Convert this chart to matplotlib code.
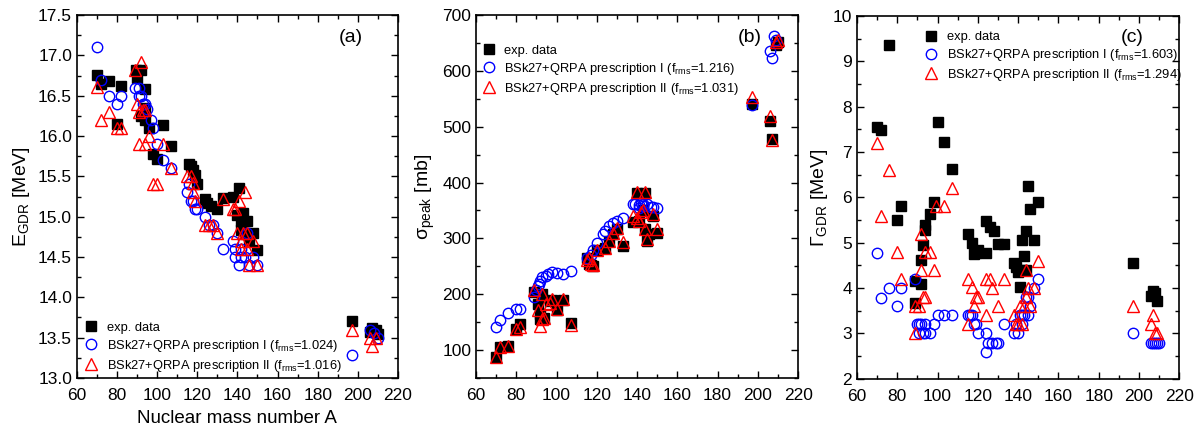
import matplotlib
matplotlib.use("Agg")
import matplotlib.pyplot as plt
from matplotlib.ticker import MultipleLocator

plt.rcParams['font.family'] = ['Liberation Sans', 'DejaVu Sans']
plt.rcParams['mathtext.default'] = 'regular'

# ---------------- Panel (a): E_GDR ----------------
a_exp_A = [70, 72, 76, 82, 80, 89.5, 92, 90, 94, 94, 92, 94, 96, 103, 98, 100, 107,
           116, 117, 118, 119, 120, 124, 125, 127, 130, 133, 138, 141, 140, 142, 143,
           145, 142, 144, 148, 150, 146, 197, 207, 209, 206, 210]
a_exp_E = [16.76, 16.65, 16.68, 16.62, 16.15, 16.82, 16.82, 16.72, 16.58, 16.35, 16.25,
           16.2, 16.1, 16.14, 15.78, 15.72, 15.88, 15.65, 15.63, 15.58, 15.52, 15.40,
           15.22, 15.17, 15.13, 15.10, 15.23, 15.25, 15.35, 15.02, 14.95, 15.04, 14.95,
           14.84, 14.80, 14.80, 14.59, 14.70, 13.71, 13.62, 13.60, 13.57, 13.55]

a_I_A = [70, 72, 76, 80, 82, 89, 91, 91, 92, 94, 93, 95, 97, 98, 100, 103, 107,
         115, 116, 117, 118, 119, 120, 124, 126, 128, 130, 133, 138, 139, 139, 141,
         142, 144, 145, 146, 148, 150, 142, 197, 206, 208, 210]
a_I_E = [17.1, 16.7, 16.5, 16.4, 16.5, 16.6, 16.6, 16.5, 16.5, 16.4, 16.4, 16.33, 16.2,
         16.1, 15.9, 15.7, 15.6, 15.3, 15.4, 15.2, 15.2, 15.1, 15.1, 15.0, 14.9, 14.9,
         14.8, 14.6, 14.7, 14.6, 14.5, 14.4, 14.5, 14.5, 14.8, 14.4, 14.5, 14.4, 14.6,
         13.29, 13.6, 13.56, 13.5]

a_II_A = [70, 72, 76, 80, 82, 89, 92, 90, 91, 93, 94, 91, 94, 96, 103, 107, 98, 100,
          115, 117, 118, 118, 119, 124, 126, 128, 130, 133, 138, 139, 141, 144, 140,
          142, 143, 145, 145, 148, 146, 150, 142, 197, 206, 207, 209]
a_II_E = [16.61, 16.2, 16.3, 16.1, 16.1, 16.82, 16.92, 16.4, 16.3, 16.32, 16.32, 15.9,
          15.9, 16.0, 15.9, 15.6, 15.41, 15.41, 15.5, 15.5, 15.42, 15.3, 15.2, 14.9,
          14.9, 14.9, 14.8, 15.22, 15.1, 15.1, 15.2, 15.3, 14.8, 14.7, 14.8, 14.8, 14.6,
          14.7, 14.4, 14.4, 14.6, 13.6, 13.5, 13.4, 13.5]

# ---------------- Panel (b): sigma_peak ----------------
b_exp_A = [70, 72, 76, 80, 82, 89, 91, 93, 92, 94, 92, 97, 98, 100, 103, 107,
           115, 116, 117, 118, 120, 124, 126, 128, 130, 133,
           138, 140, 144, 141, 143, 144, 145, 148, 150, 146, 197, 206, 207, 209, 210]
b_exp_S = [87, 106, 108, 137, 146, 204, 182, 200, 164, 158, 155, 188, 189, 172, 190, 149,
           264, 255, 252, 250, 279, 283, 296, 307, 316, 287,
           329, 382, 382, 332, 351, 316, 295, 340, 310, 307, 540, 511, 478, 646, 652]

b_I_A = [70, 72, 76, 80, 82, 89, 90, 91, 91.5, 92, 93, 95, 96, 98, 100, 103, 107,
         115, 117, 118, 120, 123, 124, 126, 128, 130, 133,
         138, 139, 141, 142, 143, 145, 147, 148, 150, 141, 143, 197, 206, 207, 208, 209]
b_I_S = [141, 154, 167, 173, 173, 195, 207, 214, 219, 224, 230, 233, 236, 239, 238, 236, 242,
         264, 270, 279, 292, 307, 313, 322, 327, 331, 336,
         362, 362, 359, 364, 362, 362, 357, 357, 354, 355, 358, 539, 636, 623, 662, 655]

b_II_A = [70, 72, 76, 80, 82, 89, 91, 92, 93, 93, 94, 95, 97, 98, 100, 103, 107,
          115, 116, 117, 118, 120, 124, 126, 128, 130, 133,
          138, 140, 144, 140, 142, 143, 144, 145, 148, 150, 141, 197, 206, 207, 209, 210]
b_II_S = [87, 106, 108, 137, 142, 207, 172, 143, 200, 155, 158, 182, 185, 191, 174, 191, 144,
          262, 264, 255, 252, 279, 283, 296, 310, 319, 294,
          340, 383, 383, 337, 347, 351, 316, 299, 343, 316, 331, 553, 520, 476, 652, 655]

# ---------------- Panel (c): Gamma_GDR ----------------
c_exp_A = [70, 72, 76, 80, 82, 89, 89, 92, 92, 93, 94, 94, 96, 98, 100, 103, 107,
           115, 117, 118, 119, 120, 124, 126, 128, 130, 133, 124,
           138, 139, 140, 141, 142, 143, 144, 145, 146, 148, 150, 144, 142,
           197, 206, 207, 208, 209]
c_exp_W = [7.55, 7.48, 9.35, 5.5, 5.8, 3.67, 4.15, 4.1, 4.63, 4.95, 5.27, 5.38, 5.64, 5.9,
           7.67, 7.22, 6.63, 5.19, 4.99, 4.75, 4.78, 4.85, 5.48, 5.35, 5.26, 4.97, 4.97, 4.78,
           4.56, 4.47, 4.36, 4.03, 5.06, 4.71, 5.26, 6.26, 5.75, 5.05, 5.9, 4.4, 4.4,
           4.55, 3.82, 3.93, 3.9, 3.71]

c_I_A = [70, 72, 76, 80, 82, 89, 90, 91, 92, 94, 91, 93, 94, 96, 98, 100, 103, 107,
         115, 116, 117, 118, 119, 120, 124, 124, 125, 127, 129, 130, 133,
         138, 140, 139, 141, 142, 143, 145, 142, 144, 145, 146, 148, 150,
         197, 206, 207, 208, 209, 210]
c_I_W = [4.78, 3.78, 4.0, 3.6, 4.0, 4.2, 3.2, 3.2, 3.2, 3.2, 3.0, 3.0, 3.0, 3.0, 3.2, 3.4,
         3.4, 3.4, 3.4, 3.4, 3.4, 3.2, 3.2, 3.0, 3.0, 2.6, 2.8, 2.8, 2.8, 2.8, 3.2,
         3.0, 3.0, 3.2, 3.4, 3.4, 3.4, 3.4, 3.2, 3.8, 3.8, 3.6, 4.0, 4.2,
         3.0, 2.8, 2.8, 2.8, 2.8, 2.8]

c_II_A = [70, 72, 76, 80, 82, 89, 89, 91, 92, 92, 93, 94, 94, 96, 98, 99, 103, 107,
          115, 115, 117, 118, 119, 120, 124, 126, 124, 127, 130, 133,
          138, 139, 140, 141, 142, 143, 144, 145, 146, 148, 150, 144,
          197, 206, 207, 208, 209]
c_II_W = [7.2, 5.6, 6.6, 4.8, 4.2, 3.6, 3.0, 3.6, 5.2, 4.4, 3.8, 3.8, 4.8, 4.8, 4.4, 5.8,
          5.8, 6.2, 4.2, 3.2, 4.03, 3.6, 3.8, 3.8, 4.2, 4.2, 3.4, 4.0, 3.6, 4.2,
          3.4, 3.2, 3.2, 3.6, 3.2, 3.6, 4.4, 4.0, 3.6, 4.0, 4.6, 3.8,
          3.6, 3.2, 3.4, 3.0, 3.0]

lab_exp = 'exp. data'
lab_I = ['BSk27+QRPA prescription I (f$_{rms}$=1.024)',
         'BSk27+QRPA prescription I (f$_{rms}$=1.216)',
         'BSk27+QRPA prescription I (f$_{rms}$=1.603)']
lab_II = ['BSk27+QRPA prescription II (f$_{rms}$=1.016)',
          'BSk27+QRPA prescription II (f$_{rms}$=1.031)',
          'BSk27+QRPA prescription II (f$_{rms}$=1.294)']

fig = plt.figure(figsize=(12.02, 4.30), dpi=100)
axes = [fig.add_axes([0.064, 0.121, 0.267, 0.844]),
        fig.add_axes([0.396, 0.121, 0.268, 0.844]),
        fig.add_axes([0.713, 0.119, 0.268, 0.844])]

data = [(a_exp_A, a_exp_E, a_I_A, a_I_E, a_II_A, a_II_E),
        (b_exp_A, b_exp_S, b_I_A, b_I_S, b_II_A, b_II_S),
        (c_exp_A, c_exp_W, c_I_A, c_I_W, c_II_A, c_II_W)]

ms = 7.5
for i, (ax, d) in enumerate(zip(axes, data)):
    ax.plot(d[0], d[1], 's', color='black', ms=ms - 0.5, label=lab_exp, linestyle='none')
    ax.plot(d[2], d[3], 'o', mfc='none', mec='#0000ff', mew=1.0, ms=ms, label=lab_I[i], linestyle='none')
    ax.plot(d[4], d[5], '^', mfc='none', mec='#ff0000', mew=1.0, ms=ms + 0.5, label=lab_II[i], linestyle='none')
    ax.set_xlim(60, 220)
    ax.xaxis.set_major_locator(MultipleLocator(20))
    ax.xaxis.set_minor_locator(MultipleLocator(10))
    ax.tick_params(which='both', direction='in', top=True, right=True, labelsize=12.5,
                   width=1.0)
    ax.tick_params(which='major', length=5)
    ax.tick_params(which='minor', length=3)
    ax.tick_params(axis='x', which='major', pad=7)
    for s in ax.spines.values():
        s.set_linewidth(1.2)

leg_kw = dict(frameon=False, fontsize=9.3, handletextpad=0.6, labelspacing=0.3,
              borderaxespad=0.5, handlelength=1.2)

# (a)
ax = axes[0]
ax.set_ylim(13.0, 17.5)
ax.yaxis.set_major_locator(MultipleLocator(0.5))
ax.yaxis.set_minor_locator(MultipleLocator(0.25))
ax.yaxis.set_major_formatter(matplotlib.ticker.FormatStrFormatter('%.1f'))
ax.set_ylabel('E$_{GDR}$ [MeV]', fontsize=14, labelpad=4)
ax.set_xlabel('Nuclear mass number A', fontsize=13.5, labelpad=5)
ax.text(0.853, 0.937, '(a)', transform=ax.transAxes, fontsize=14, ha='center', va='center')
ax.legend(loc='lower left', bbox_to_anchor=(-0.015, -0.02), **leg_kw)

# (b)
ax = axes[1]
ax.set_ylim(50, 700)
ax.yaxis.set_major_locator(MultipleLocator(100))
ax.yaxis.set_minor_locator(MultipleLocator(50))
ax.set_ylabel('$\\sigma_{peak}$ [mb]', fontsize=14, labelpad=4)
ax.text(0.851, 0.937, '(b)', transform=ax.transAxes, fontsize=14, ha='center', va='center')
ax.legend(loc='upper left', bbox_to_anchor=(-0.02, 0.95), **leg_kw)

# (c)
ax = axes[2]
ax.set_ylim(2, 10)
ax.yaxis.set_major_locator(MultipleLocator(1))
ax.yaxis.set_minor_locator(MultipleLocator(0.5))
ax.set_ylabel('$\\Gamma_{GDR}$ [MeV]', fontsize=14, labelpad=2)
ax.text(0.854, 0.94, '(c)', transform=ax.transAxes, fontsize=14, ha='center', va='center')
ax.legend(loc='upper left', bbox_to_anchor=(0.17, 0.99), **leg_kw)

fig.savefig('out.png', dpi=100)
